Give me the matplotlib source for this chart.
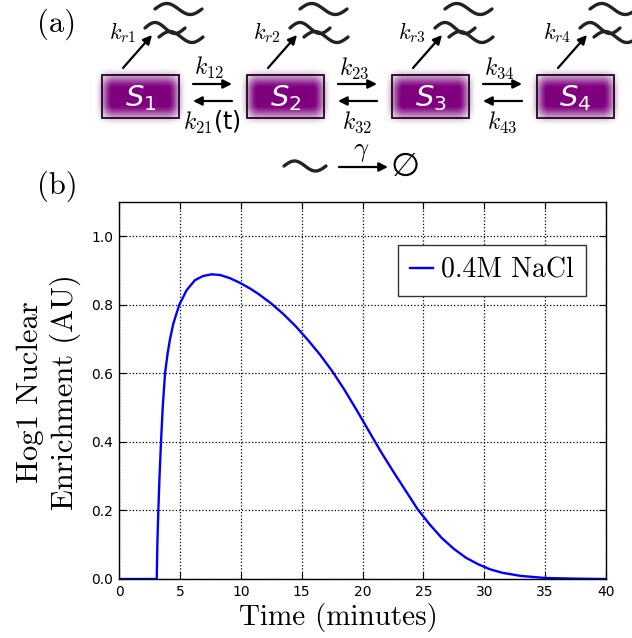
import numpy as np
import matplotlib
matplotlib.use("Agg")
import matplotlib.pyplot as plt
from matplotlib.patches import Rectangle

# Hog1 nuclear enrichment after 0.4M NaCl
t_min = [0, 3.1, 3.15, 3.23, 3.33, 3.45, 3.59, 3.78, 4.0, 4.19, 4.46, 4.95, 5.56,
         6.24, 6.9, 7.6, 8.3, 9.1, 9.94, 10.7, 11.44, 12.5, 13.5, 14.5, 15.5, 16.5,
         17.5, 18.5, 19.5, 20.5, 21.5, 22.5, 23.5, 24.5, 25.5, 26.5, 27.5, 28.5,
         29.5, 30.5, 31.5, 33.0, 35.0, 37.5, 40.0]
hog1 = [0, 0, 0.1, 0.2, 0.3, 0.4, 0.5, 0.6, 0.66, 0.70, 0.745, 0.80, 0.843,
        0.872, 0.884, 0.889, 0.887, 0.878, 0.864, 0.849, 0.832, 0.804, 0.773, 0.738,
        0.698, 0.655, 0.607, 0.553, 0.494, 0.433, 0.372, 0.315, 0.26, 0.205, 0.16,
        0.12, 0.088, 0.062, 0.043, 0.028, 0.018, 0.009, 0.003, 0.001, 0.0]
series_label = "0.4M NaCl"

states = ["$S_1$", "$S_2$", "$S_3$", "$S_4$"]
fwd_rates = ["$k_{12}$", "$k_{23}$", "$k_{34}$"]
bwd_rates = ["$k_{21}$(t)", "$k_{32}$", "$k_{43}$"]
rad_rates = ["$k_{r1}$", "$k_{r2}$", "$k_{r3}$", "$k_{r4}$"]

W, H = 632, 638
fig = plt.figure(figsize=(W / 100, H / 100), dpi=100)

# ---- panel (a): scheme, drawn in pixel coordinates ----
d = fig.add_axes([0, 0, 1, 1], zorder=0)
d.set_xlim(0, W)
d.set_ylim(H, 0)
d.axis("off")

def smooth(x, a, b):
    s = np.clip((x - a) / (b - a), 0, 1)
    return s * s * (3 - 2 * s)

purple = np.array([0.50, 0.0, 0.50])
u = np.linspace(-0.15, 1.15, 140)
v = np.linspace(-0.3, 1.3, 90)
U, V = np.meshgrid(u, v)
inten = (smooth(U, -0.10, 0.15) * smooth(1 - U, -0.10, 0.15) *
         smooth(V, -0.20, 0.34) * smooth(1 - V, -0.20, 0.34))
img = np.zeros(U.shape + (4,))
img[..., :3] = purple
img[..., 3] = np.clip(inten * 1.05, 0, 1)

bx0, bw, by0, bh, step = 102, 77, 75, 43, 145

def wave(x0, yc, w, amp=5.5):
    xx = np.linspace(0, 1, 60)
    d.plot(x0 + w * xx, yc - amp * np.sin(2 * np.pi * xx), color="#222222", lw=2.4,
           solid_capstyle="round")

arrow = dict(arrowstyle="-|>", lw=1.6, color="k", mutation_scale=13, shrinkA=0, shrinkB=0)

for i, s in enumerate(states):
    x0 = bx0 + i * step
    d.imshow(img, extent=(x0 - 0.15 * bw, x0 + 1.15 * bw, by0 + 1.3 * bh, by0 - 0.3 * bh),
             aspect="auto", interpolation="bilinear", zorder=1)
    d.add_patch(Rectangle((x0, by0), bw, bh, fill=False, ec="k", lw=1.2, zorder=2))
    d.text(x0 + bw / 2, by0 + bh / 2 + 2, s, color="white", fontsize=21,
           ha="center", va="center", zorder=3)
    d.annotate("", xy=(x0 + 50, 35), xytext=(x0 + 21, 68), arrowprops=arrow)
    d.text(x0 + 34, 33, rad_rates[i], fontsize=16, ha="right", va="center",
           math_fontfamily="cm")
    wave(x0 + 53, 9, 47)
    wave(x0 + 43, 28, 40)
    wave(x0 + 57, 37, 44)
    if i < 3:
        a0 = x0 + bw + 14
        d.annotate("", xy=(a0 + 39, 84), xytext=(a0, 84), arrowprops=arrow)
        d.annotate("", xy=(a0, 101), xytext=(a0 + 39, 101), arrowprops=arrow)
        d.text(a0 + 16, 68, fwd_rates[i], fontsize=17, ha="center", va="center",
               math_fontfamily="cm")
        d.text(a0 + 19, 122, bwd_rates[i], fontsize=17, ha="center", va="center",
               math_fontfamily="cm")

wave(284, 166, 42, amp=5)
d.annotate("", xy=(388, 167), xytext=(339, 167), arrowprops=arrow)
d.text(361, 151, r"$\gamma$", fontsize=19, ha="center", va="center", math_fontfamily="cm")
d.text(404, 166, r"$\varnothing$", fontsize=24, ha="center", va="center")

d.text(57, 24, "(a)", fontsize=22, family="cmr10", ha="center", va="center")
d.text(57, 186, "(b)", fontsize=22, family="cmr10", ha="center", va="center")

# ---- panel (b): time course ----
ax = fig.add_axes([119 / W, 1 - 579 / H, 487 / W, 377 / H], zorder=1)
ax.plot(t_min, hog1, color="#0000ff", lw=1.7, label=series_label)
ax.set_xlim(0, 40)
ax.set_ylim(0, 1.1)
ax.set_xticks(np.arange(0, 41, 5))
ax.set_yticks(np.arange(0, 1.01, 0.2))
ax.grid(True, ls=":", color="k", lw=0.9)
ax.tick_params(direction="in", top=True, right=True, labelsize=10, length=5, pad=4)
for sp in ax.spines.values():
    sp.set_linewidth(1.0)

leg = ax.legend(loc="upper right", bbox_to_anchor=(586 / W, 1 - 245 / H),
                bbox_transform=fig.transFigure, borderaxespad=0, fancybox=False,
                framealpha=1, edgecolor="#333333", handlelength=0.8, handletextpad=0.3,
                borderpad=0.45, prop={"family": "cmr10", "size": 20})
leg.get_frame().set_linewidth(1.0)

fig.text(338 / W, 1 - 617 / H, "Time (minutes)", fontsize=21, family="cmr10",
         ha="center", va="center")
fig.text(49 / W, 1 - 392 / H, "Hog1 Nuclear\nEnrichment (AU)", fontsize=22,
         family="cmr10", ha="center", va="center", rotation=90, linespacing=1.25)

fig.savefig("out.png", dpi=100)
